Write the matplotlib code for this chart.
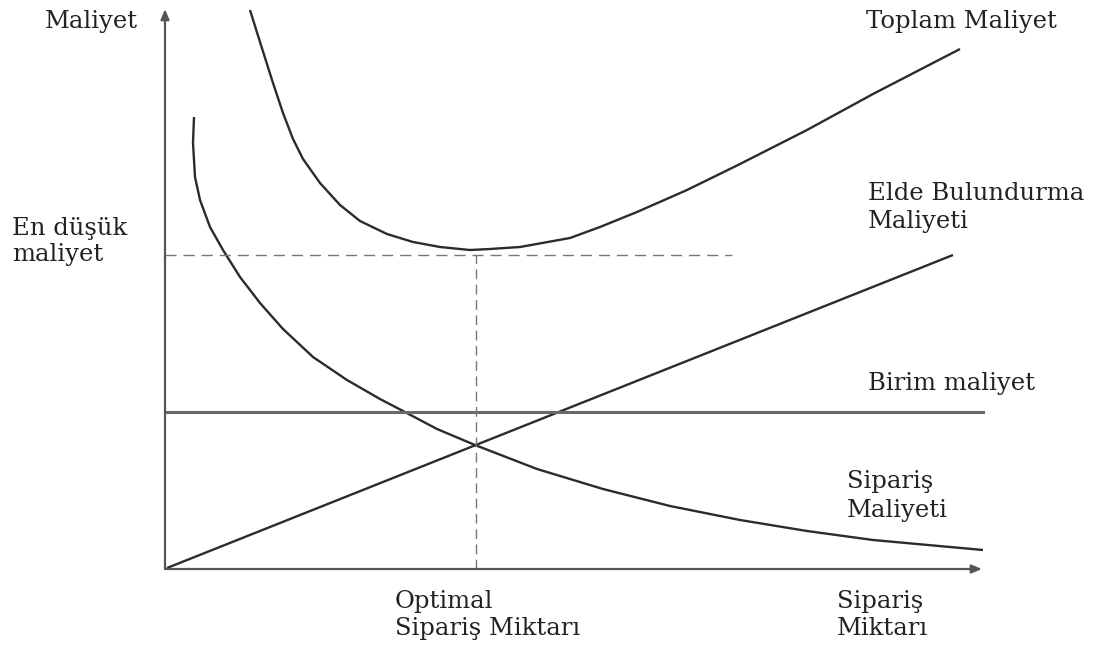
import matplotlib.pyplot as plt

# ========================================================
# DATA (order quantity vs cost)

# Toplam Maliyet (total cost curve)
TOTAL_Q = [85, 95, 108, 118, 128, 138, 155, 175, 195, 222, 248, 275, 305, 325,
           355, 405, 435, 472, 522, 573, 642, 708, 795]
TOTAL_C = [559, 527, 486, 456, 430, 410, 386, 364, 348, 335, 327, 322, 319, 320,
           322, 331, 342, 357, 379, 404, 439, 475, 520]

# Sipariş Maliyeti (ordering cost curve)
ORDER_Q = [29, 28, 30, 35, 45, 58, 75, 95, 118, 148, 182, 215, 238, 272, 310,
           372, 438, 505, 575, 642, 708, 818]
ORDER_C = [452, 426, 392, 369, 342, 319, 292, 266, 240, 212, 189, 170, 158, 140, 124,
           100, 80, 63, 49, 38, 29, 19]

# Elde Bulundurma Maliyeti (holding cost line)
HOLD_Q = [2, 788]
HOLD_C = [1, 314]

# Birim maliyet (unit cost line)
UNIT_Q = [0, 818]
UNIT_C = [157, 157]

OPT_Q = 311
MIN_COST = 314
DASH_END_Q = 567

Q_MAX = 817
C_MAX = 560

# ========================================================
# PLOT

plt.rcParams["font.family"] = ["DejaVu Serif"]

fig = plt.figure(figsize=(11.1, 6.5), dpi=100)
ax = fig.add_axes([0, 0, 1, 1])
ax.set_xlim(-165, 945)
ax.set_ylim(-81, 569)
ax.axis("off")

line_col = "#2b2b2b"
curve_kw = dict(color=line_col, lw=1.7, solid_joinstyle="round", solid_capstyle="butt")
ax.plot(TOTAL_Q, TOTAL_C, **curve_kw)
ax.plot(ORDER_Q, ORDER_C, **curve_kw)
ax.plot(HOLD_Q, HOLD_C, **curve_kw)
ax.plot(UNIT_Q, UNIT_C, color="#6a6a6a", lw=2.2)

# guide lines for the optimum
ax.plot([0, DASH_END_Q], [MIN_COST, MIN_COST], color="#777777", lw=1.0, dashes=(8, 5))
ax.plot([OPT_Q, OPT_Q], [0, MIN_COST], color="#777777", lw=1.0, dashes=(7, 4))

# axes with arrow heads
arrow = dict(arrowstyle="-|>,head_length=0.6,head_width=0.25", color="#555555", lw=1.6,
             shrinkA=0, shrinkB=0)
ax.annotate("", xy=(0, C_MAX), xytext=(0, 0), arrowprops=arrow)
ax.annotate("", xy=(Q_MAX, 0), xytext=(0, 0), arrowprops=arrow)

# labels: (text, x, baseline y, alignment) in data units
LABELS = [
    ("Maliyet", -27, 541, "right"),
    ("Toplam Maliyet", 796, 541, "center"),
    ("Elde Bulundurma", 703, 369, "left"),
    ("Maliyeti", 703, 341, "left"),
    ("En düşük", -153, 334, "left"),
    ("maliyet", -153, 308, "left"),
    ("Birim maliyet", 703, 179, "left"),
    ("Sipariş", 682, 81, "left"),
    ("Maliyeti", 682, 52, "left"),
    ("Optimal", 230, -39, "left"),
    ("Sipariş Miktarı", 230, -66, "left"),
    ("Sipariş", 672, -39, "left"),
    ("Miktarı", 672, -66, "left"),
]
for txt, x, y, ha in LABELS:
    ax.text(x, y, txt, fontsize=17.5, color="#222222", ha=ha, va="baseline")

plt.savefig("out.png", dpi=100)
